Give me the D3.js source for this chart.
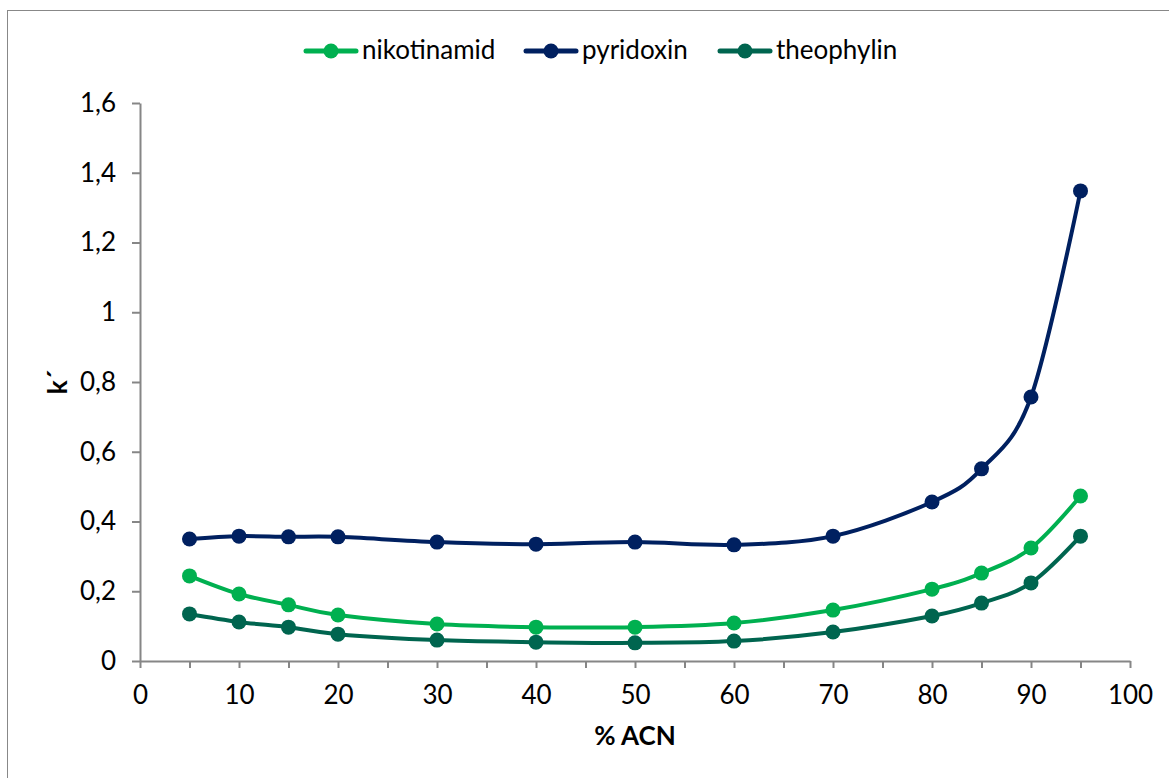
<!DOCTYPE html>
<html lang="en">
<head>
<meta charset="utf-8">
<title>k' vs % ACN</title>
<script src="https://cdn.jsdelivr.net/npm/d3@7"></script>
<style>
  body { margin: 0; background: #fff; }
  text { font-family: Lato, "Liberation Sans", Arial, sans-serif; fill: #000; }
</style>
</head>
<body>
<script>
// % ACN values
var acn = [5, 10, 15, 20, 30, 40, 50, 60, 70, 80, 85, 90, 95];
var seriesNames = ["nikotinamid", "pyridoxin", "theophylin"];
var nikotinamid = [0.244, 0.192, 0.161, 0.132, 0.106, 0.097, 0.097, 0.109, 0.146, 0.206, 0.252, 0.324, 0.473];
var pyridoxin   = [0.350, 0.358, 0.356, 0.356, 0.341, 0.335, 0.341, 0.333, 0.358, 0.456, 0.551, 0.757, 1.348];
var theophylin  = [0.135, 0.112, 0.097, 0.077, 0.060, 0.054, 0.052, 0.057, 0.083, 0.129, 0.166, 0.224, 0.358];
var colors = ["#00B050", "#002060", "#00654F"];
var xTicks = [0, 10, 20, 30, 40, 50, 60, 70, 80, 90, 100];
var yTicks = [0, 0.2, 0.4, 0.6, 0.8, 1, 1.2, 1.4, 1.6];

var w = 1169, h = 778;
var svg = d3.select("body").append("svg")
  .attr("width", w).attr("height", h);

// chart border
svg.append("rect")
  .attr("x", 7.5).attr("y", 10.5)
  .attr("width", w).attr("height", h)
  .attr("fill", "none").attr("stroke", "#888").attr("stroke-width", 1);

var x = d3.scaleLinear().domain([0, 100]).range([140, 1130]);
var y = d3.scaleLinear().domain([0, 1.6]).range([661, 103]);
var fmt = function(d) { return String(d).replace(".", ","); };

// x axis, minor ticks every 5, labels every 10
var xAxis = svg.append("g").attr("transform", "translate(0,661)")
  .call(d3.axisBottom(x).tickValues(d3.range(0, 101, 5)).tickSize(7).tickSizeOuter(0)
    .tickFormat(function(d) { return xTicks.indexOf(d) >= 0 ? d : ""; }));
xAxis.selectAll("text").attr("y", 43).attr("dy", 0).style("font-size", "26px");

// y axis
var yAxis = svg.append("g").attr("transform", "translate(140,0)")
  .call(d3.axisLeft(y).tickValues(yTicks).tickSize(8).tickSizeOuter(0).tickFormat(fmt));
yAxis.selectAll("text").attr("x", -24).style("font-size", "26px");

svg.selectAll(".domain, .tick line").attr("stroke", "#868686").attr("stroke-width", 2);

// axis titles
svg.append("text").attr("x", 635).attr("y", 745)
  .attr("text-anchor", "middle").style("font-size", "26px").style("font-weight", "bold")
  .text("% ACN");
svg.append("text").attr("transform", "translate(67,382) rotate(-90)")
  .attr("text-anchor", "middle").style("font-size", "26px").style("font-weight", "bold")
  .text("k´");

var allSeries = [nikotinamid, pyridoxin, theophylin];
var line = d3.line()
  .x(function(d, i) { return x(acn[i]); })
  .y(function(d) { return y(d); })
  .curve(d3.curveCardinal.tension(0));

allSeries.forEach(function(vals, s) {
  svg.append("path").datum(vals)
    .attr("d", line).attr("fill", "none")
    .attr("stroke", colors[s]).attr("stroke-width", 4);
  svg.selectAll(".pt" + s).data(vals).enter().append("circle")
    .attr("cx", function(d, i) { return x(acn[i]); })
    .attr("cy", function(d) { return y(d); })
    .attr("r", 7.5).attr("fill", colors[s]);
});

// legend
var legX = [304, 524, 718];
seriesNames.forEach(function(name, s) {
  var g = svg.append("g").attr("transform", "translate(" + legX[s] + ",51)");
  g.append("line").attr("x1", 2).attr("x2", 52).attr("y1", 0).attr("y2", 0)
    .attr("stroke", colors[s]).attr("stroke-width", 5).attr("stroke-linecap", "round");
  g.append("circle").attr("cx", 27).attr("cy", 0).attr("r", 7.5).attr("fill", colors[s]);
  g.append("text").attr("x", 58).attr("y", 8).style("font-size", "26px").text(name);
});
</script>
</body>
</html>
